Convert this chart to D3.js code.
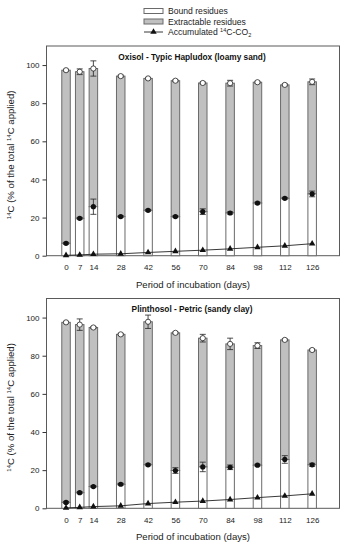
<!DOCTYPE html>
<html>
<head>
<meta charset="utf-8">
<script src="https://cdn.jsdelivr.net/npm/d3@7"></script>
<style>
  body { margin: 0; background: #fff; }
  svg { display: block; font-family: Arial, "Liberation Sans", sans-serif; }
</style>
</head>
<body>
<svg id="chart" width="350" height="550"></svg>
<script>
// incubation days (x categories)
const days = [0, 7, 14, 28, 42, 56, 70, 84, 98, 112, 126];
const yTicks = [0, 20, 40, 60, 80, 100];

// Oxisol - Typic Hapludox (loamy sand)
const oxBound = [6.5, 19.6, 25.7, 20.5, 23.8, 20.5, 23.1, 22.4, 27.6, 30.1, 32.4];
const oxBoundErr = [0.5, 0.5, 4.0, 0.5, 0.5, 0.5, 1.5, 0.6, 0.5, 0.5, 1.5];
const oxTotal = [97.3, 96.5, 98.2, 94.2, 93.0, 91.8, 90.6, 90.5, 91.0, 89.6, 91.2];
const oxTotalErr = [0.5, 1.5, 4.0, 0.5, 0.5, 0.5, 0.5, 1.5, 0.5, 0.5, 1.5];
const oxCO2 = [0.2, 0.4, 0.8, 1.0, 1.7, 2.3, 2.9, 3.6, 4.4, 5.2, 6.3];

// Plinthosol - Petric (sandy clay)
const plBound = [3.1, 8.2, 11.4, 12.6, 22.8, 19.8, 21.7, 21.5, 22.6, 25.6, 22.8];
const plBoundErr = [0.5, 0.5, 0.5, 0.5, 0.5, 1.5, 2.5, 1.2, 0.5, 2.0, 0.8];
const plTotal = [97.5, 96.3, 94.8, 91.2, 97.8, 92.0, 89.2, 86.2, 85.3, 88.3, 83.0];
const plTotalErr = [0.5, 3.0, 0.5, 0.5, 3.5, 0.5, 2.0, 3.0, 1.5, 0.5, 0.5];
const plCO2 = [0.2, 0.5, 0.9, 1.3, 2.5, 3.2, 3.8, 4.6, 5.6, 6.5, 7.6];

const panels = [
  { title: "Oxisol - Typic Hapludox (loamy sand)", bound: oxBound, boundErr: oxBoundErr,
    total: oxTotal, totalErr: oxTotalErr, co2: oxCO2, top: 46, bottom: 255.7 },
  { title: "Plinthosol - Petric (sandy clay)", bound: plBound, boundErr: plBoundErr,
    total: plTotal, totalErr: plTotalErr, co2: plCO2, top: 298.5, bottom: 508.3 },
];

const svg = d3.select("#chart");
const left = 46.5, right = 339.5;
const barW = 8.5;
const grayFill = "#c0c0c0", outline = "#6a6a6a";
const textCol = "#222";

const x = d3.scaleLinear().domain([-10, 140]).range([left, right]);

panels.forEach((p) => {
  const y = d3.scaleLinear().domain([0, 110]).range([p.bottom, p.top]);
  const g = svg.append("g");

  // frame
  g.append("rect")
    .attr("x", left).attr("y", p.top)
    .attr("width", right - left).attr("height", p.bottom - p.top)
    .attr("fill", "none").attr("stroke", "#5a5a5a").attr("stroke-width", 1);

  // y axis
  const yAxis = g.append("g")
    .attr("transform", `translate(${left},0)`)
    .call(d3.axisLeft(y).tickValues(yTicks).tickSize(4).tickPadding(3));
  yAxis.select(".domain").remove();
  yAxis.selectAll("line").attr("stroke", "#333");
  yAxis.selectAll("text").attr("font-size", 8).attr("fill", textCol).style("font-family", "Arial, 'Liberation Sans', sans-serif");

  // x axis labels (no tick marks)
  const xAxis = g.append("g")
    .attr("transform", `translate(0,${p.bottom})`)
    .call(d3.axisBottom(x).tickValues(days).tickSize(0).tickPadding(9));
  xAxis.select(".domain").remove();
  xAxis.selectAll("text").attr("font-size", 8).attr("fill", textCol).style("font-family", "Arial, 'Liberation Sans', sans-serif");

  // x title
  g.append("text")
    .attr("x", 193).attr("y", p.bottom + 32)
    .attr("text-anchor", "middle").attr("font-size", 9.6).attr("fill", textCol)
    .text("Period of incubation (days)");

  // y title
  const yt = g.append("text")
    .attr("transform", `translate(14,${(p.top + p.bottom) / 2 + 4}) rotate(-90)`)
    .attr("text-anchor", "middle").attr("font-size", 9.6).attr("fill", textCol);
  yt.append("tspan").attr("font-size", 6).attr("dy", -3.5).text("14");
  yt.append("tspan").attr("dy", 3.5).text("C (% of the total ");
  yt.append("tspan").attr("font-size", 6).attr("dy", -3.5).text("14");
  yt.append("tspan").attr("dy", 3.5).text("C applied)");

  // panel title
  g.append("text")
    .attr("x", 192).attr("y", p.top + 13.5)
    .attr("text-anchor", "middle").attr("font-size", 8.3).attr("font-weight", "bold")
    .attr("fill", "#111").text(p.title);

  // extractable (gray) segment from bound to total
  g.selectAll(".ext").data(days).enter().append("rect")
    .attr("x", (d) => x(d) - barW / 2)
    .attr("y", (d, i) => y(p.total[i]))
    .attr("width", barW)
    .attr("height", (d, i) => y(p.bound[i]) - y(p.total[i]))
    .attr("fill", grayFill).attr("stroke", outline).attr("stroke-width", 1);

  // bound (white) segment
  g.selectAll(".bnd").data(days).enter().append("rect")
    .attr("x", (d) => x(d) - barW / 2)
    .attr("y", (d, i) => y(p.bound[i]))
    .attr("width", barW)
    .attr("height", (d, i) => y(0) - y(p.bound[i]))
    .attr("fill", "#fff").attr("stroke", outline).attr("stroke-width", 1);

  // error bars
  function errBars(vals, errs) {
    days.forEach((d, i) => {
      const cx = x(d), y1 = y(vals[i] + errs[i]), y2 = y(vals[i] - errs[i]);
      g.append("line").attr("x1", cx).attr("x2", cx).attr("y1", y1).attr("y2", y2)
        .attr("stroke", "#222").attr("stroke-width", 0.8);
      [y1, y2].forEach((yy) => {
        g.append("line").attr("x1", cx - 3).attr("x2", cx + 3).attr("y1", yy).attr("y2", yy)
          .attr("stroke", "#222").attr("stroke-width", 0.8);
      });
    });
  }
  errBars(p.total, p.totalErr);
  errBars(p.bound, p.boundErr);

  // markers
  g.selectAll(".tot").data(days).enter().append("circle")
    .attr("cx", (d) => x(d)).attr("cy", (d, i) => y(p.total[i])).attr("r", 2.6)
    .attr("fill", "#fff").attr("stroke", "#222").attr("stroke-width", 0.8);
  g.selectAll(".bm").data(days).enter().append("circle")
    .attr("cx", (d) => x(d)).attr("cy", (d, i) => y(p.bound[i])).attr("r", 2.6)
    .attr("fill", "#111");

  // CO2 line
  const line = d3.line().x((d, i) => x(days[i])).y((d) => y(d));
  g.append("path").datum(p.co2).attr("d", line)
    .attr("fill", "none").attr("stroke", "#222").attr("stroke-width", 0.9);
  g.selectAll(".tri").data(p.co2).enter().append("path")
    .attr("d", d3.symbol().type(d3.symbolTriangle).size(18))
    .attr("transform", (d, i) => `translate(${x(days[i])},${y(d)})`)
    .attr("fill", "#111");
});

// legend
const lg = svg.append("g");
const legendItems = ["Bound residues", "Extractable residues"];
const legendFill = ["#fff", grayFill];
legendItems.forEach((name, i) => {
  const ly = 11 + i * 10.5;
  lg.append("rect").attr("x", 144).attr("y", ly - 2.5).attr("width", 19).attr("height", 5)
    .attr("fill", legendFill[i]).attr("stroke", outline).attr("stroke-width", 1);
  lg.append("text").attr("x", 168).attr("y", ly + 3).attr("font-size", 8.6).attr("fill", textCol).text(name);
});
const ly3 = 32;
lg.append("line").attr("x1", 144).attr("x2", 163).attr("y1", ly3).attr("y2", ly3)
  .attr("stroke", "#222").attr("stroke-width", 0.9);
lg.append("path").attr("d", d3.symbol().type(d3.symbolTriangle).size(18))
  .attr("transform", `translate(153.5,${ly3})`).attr("fill", "#111");
const lt = lg.append("text").attr("x", 168).attr("y", ly3 + 3).attr("font-size", 8.6).attr("fill", textCol);
lt.append("tspan").text("Accumulated ");
lt.append("tspan").attr("font-size", 5.5).attr("dy", -3.5).text("14");
lt.append("tspan").attr("dy", 3.5).text("C-CO");
lt.append("tspan").attr("font-size", 5.5).attr("dy", 2).text("2");
</script>
</body>
</html>
